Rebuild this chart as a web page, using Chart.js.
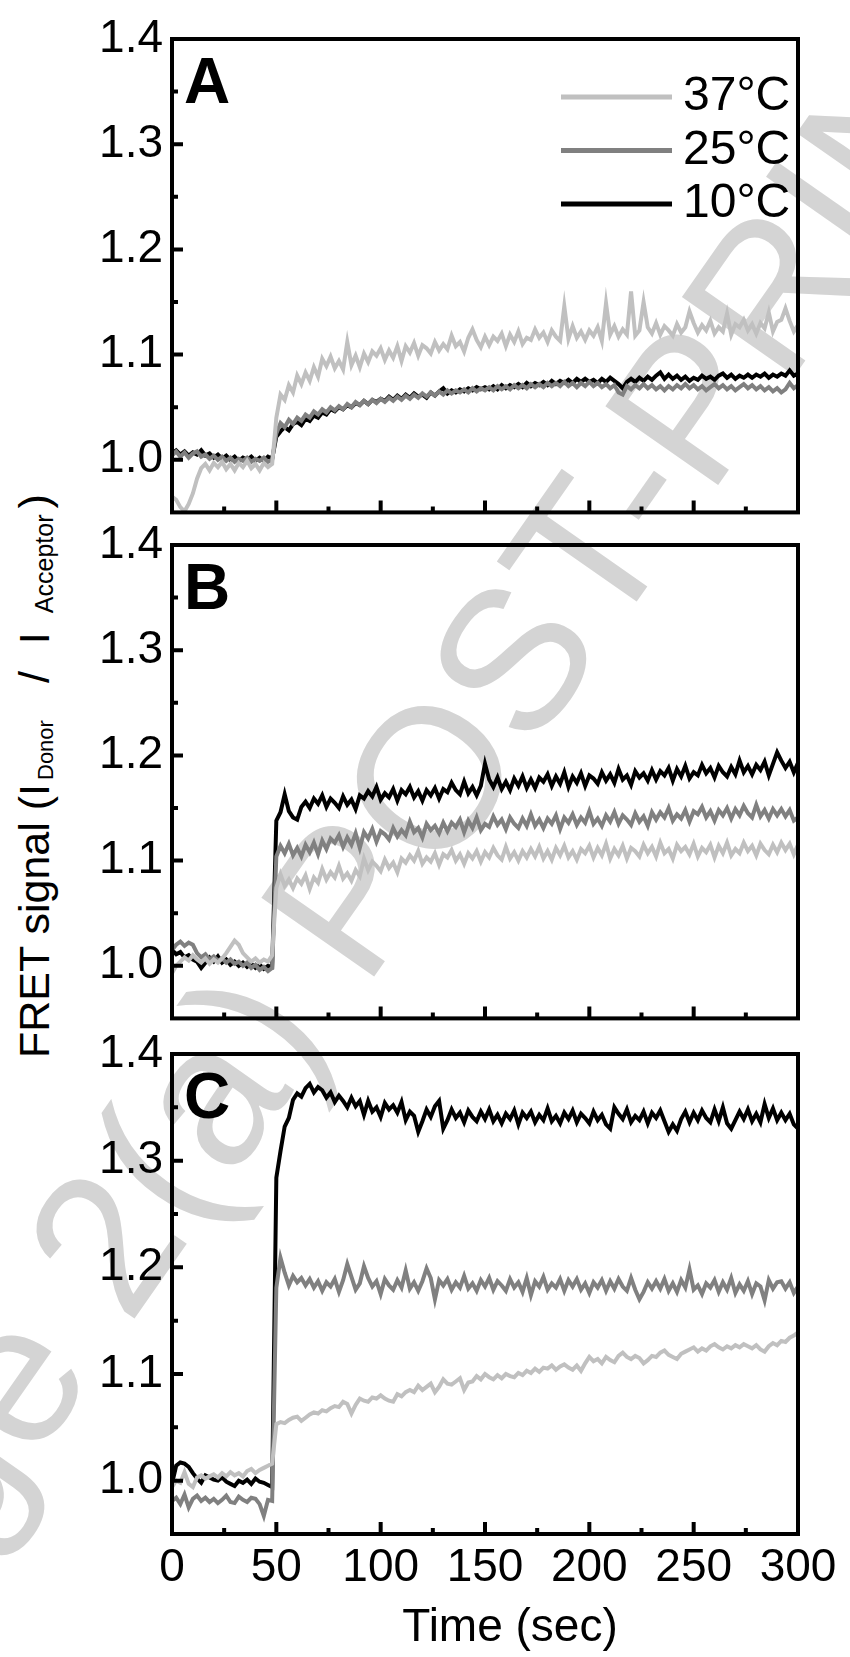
<!DOCTYPE html>
<html>
<head>
<meta charset="utf-8">
<title>FRET signal vs time</title>
<script src="https://cdn.jsdelivr.net/npm/chart.js@4.4.1/dist/chart.umd.min.js"></script>
<style>
  html, body { margin: 0; padding: 0; background: #fff; }
  #fig { position: relative; width: 850px; height: 1657px; overflow: hidden; background: #fff;
         font-family: "Liberation Sans", Arial, sans-serif; color: #000; }
  #fig canvas { position: absolute; left: 0; }
  /* watermark sits behind the plots */
  #mark { position: absolute; left: -171px; top: 1586px; font-size: 200px; line-height: 200px;
          color: #d4d4d4; white-space: nowrap; transform-origin: 0 169px; transform: rotate(-55deg); }
  #ytitle { position: absolute; left: 49px; top: 1022px; font-size: 43px; line-height: 43px;
            white-space: nowrap; transform-origin: 0 36px; transform: rotate(-90deg); }
  #ytitle .sub { font-size: 22px; line-height: 22px; vertical-align: -4px; }
  #ytitle .sub2 { font-size: 25px; line-height: 25px; vertical-align: -4px; }
</style>
</head>
<body>
<div id="fig">
  <div id="mark">Page 2(a) POST-PRINT</div>
  <div id="ytitle">FRET signal (I<span class="sub" style="margin-left:4px">Donor</span><span style="margin-left:37px">/</span><span style="margin-left:27px">I</span><span class="sub2" style="margin-left:19px">Acceptor</span><span style="margin-left:6px">)</span></div>
  <canvas id="cA" width="850" height="549" style="top:0px"></canvas>
  <canvas id="cB" width="850" height="550" style="top:505px"></canvas>
  <canvas id="cC" width="850" height="643" style="top:1014px"></canvas>
</div>
<script>
// sampling times (sec)
const times = [0,2,4,6,8,10,12,14,16,18,20,22,24,26,28,30,32,34,36,38,40,42,44,46,48,
  50,52,54,56,58,60,62,64,66,68,70,72,74,76,78,80,82,84,86,88,90,92,94,96,98,100,102,104,106,108,110,112,114,116,118,120,122,124,126,128,130,132,134,136,138,140,142,144,146,148,150,
  152,154,156,158,160,162,164,166,168,170,172,174,176,178,180,182,184,186,188,190,192,194,196,198,200,202,204,206,208,210,212,214,216,218,220,222,224,226,228,230,232,234,236,238,240,242,244,246,248,250,252,254,256,258,260,262,264,266,268,270,272,274,276,278,280,282,284,286,288,290,292,294,296,298,300];

const labels = ['37°C', '25°C', '10°C'];
const colors = ['#c0c0c0', '#808080', '#000000'];

const xTicks = [0, 50, 100, 150, 200, 250, 300];
const xMinor = [25, 75, 125, 175, 225, 275];
const yTicks = [1.0, 1.1, 1.2, 1.3, 1.4];
const yMinor = [1.05, 1.15, 1.25, 1.35];

// panel A
const a37 = [0.965,0.962,0.955,0.951,0.958,0.968,0.982,0.992,0.996,0.990,0.997,0.993,0.998,0.991,0.996,0.990,0.997,0.993,0.999,0.992,0.996,0.990,0.997,0.993,0.996,
  1.040,1.062,1.057,1.071,1.064,1.080,1.072,1.083,1.075,1.088,1.079,1.096,1.089,1.098,1.087,1.094,1.086,1.112,1.090,1.099,1.088,1.101,1.093,1.103,1.099,1.106,1.095,1.104,1.097,1.108,1.094,1.108,1.102,1.111,1.099,1.109,1.106,1.101,1.112,1.104,1.110,1.105,1.118,1.108,1.112,1.103,1.116,1.124,1.114,1.107,1.117,
  1.109,1.117,1.113,1.120,1.108,1.119,1.112,1.122,1.110,1.116,1.114,1.124,1.116,1.121,1.112,1.123,1.117,1.113,1.146,1.115,1.127,1.116,1.122,1.114,1.123,1.118,1.126,1.113,1.149,1.119,1.127,1.117,1.124,1.119,1.160,1.118,1.123,1.150,1.126,1.120,1.130,1.119,1.127,1.123,1.118,1.129,1.121,1.126,1.141,1.130,1.121,1.128,1.123,1.132,1.120,1.126,1.122,1.139,1.119,1.129,1.126,1.133,1.123,1.129,1.120,1.130,1.125,1.140,1.122,1.131,1.133,1.144,1.132,1.122,1.128];
const a25 = [1.004,1.008,1.003,1.007,1.002,1.006,1.008,1.003,1.005,1.001,1.004,1.000,1.003,0.999,1.002,0.998,1.001,0.999,1.002,0.998,1.001,0.999,1.002,0.998,1.000,
  1.025,1.035,1.031,1.038,1.034,1.040,1.037,1.043,1.040,1.046,1.043,1.048,1.045,1.050,1.047,1.051,1.048,1.053,1.050,1.055,1.052,1.056,1.053,1.057,1.054,1.058,1.055,1.059,1.056,1.060,1.057,1.061,1.058,1.062,1.059,1.063,1.060,1.064,1.061,1.065,1.062,1.066,1.063,1.066,1.064,1.067,1.064,1.068,1.065,1.068,1.066,
  1.069,1.066,1.070,1.067,1.070,1.067,1.071,1.068,1.071,1.068,1.072,1.069,1.072,1.069,1.073,1.070,1.073,1.070,1.074,1.070,1.073,1.069,1.073,1.070,1.074,1.070,1.073,1.069,1.072,1.068,1.071,1.064,1.062,1.070,1.067,1.071,1.068,1.072,1.068,1.071,1.067,1.070,1.066,1.070,1.067,1.071,1.068,1.072,1.068,1.071,1.067,1.070,1.066,1.069,1.072,1.068,1.071,1.067,1.070,1.066,1.069,1.072,1.068,1.071,1.067,1.070,1.066,1.069,1.065,1.068,1.064,1.067,1.073,1.068,1.071];
const a10 = [1.006,1.009,1.005,1.008,1.004,1.007,1.005,1.009,1.004,1.006,1.002,1.005,1.001,1.004,1.000,1.003,0.999,1.002,1.000,1.003,0.999,1.002,0.999,1.003,1.001,
  1.022,1.027,1.031,1.028,1.034,1.036,1.033,1.039,1.037,1.042,1.040,1.045,1.043,1.048,1.046,1.050,1.048,1.052,1.050,1.054,1.052,1.056,1.053,1.057,1.055,1.058,1.056,1.060,1.057,1.061,1.058,1.062,1.059,1.063,1.060,1.062,1.059,1.064,1.061,1.065,1.068,1.063,1.066,1.064,1.067,1.065,1.068,1.066,1.069,1.067,1.069,
  1.067,1.070,1.067,1.071,1.068,1.071,1.069,1.072,1.069,1.073,1.070,1.073,1.071,1.074,1.071,1.075,1.072,1.075,1.073,1.076,1.073,1.077,1.074,1.077,1.074,1.076,1.073,1.077,1.074,1.078,1.075,1.072,1.068,1.074,1.077,1.074,1.078,1.075,1.079,1.076,1.080,1.083,1.077,1.081,1.077,1.080,1.076,1.079,1.075,1.078,1.076,1.080,1.077,1.079,1.076,1.080,1.082,1.078,1.081,1.077,1.080,1.078,1.081,1.078,1.081,1.079,1.082,1.078,1.081,1.079,1.082,1.080,1.085,1.080,1.082];

// panel B
const b37 = [0.993,1.000,1.004,1.008,1.005,1.010,1.006,1.003,1.007,1.002,1.006,1.003,1.007,1.012,1.018,1.024,1.020,1.012,1.008,1.004,1.007,1.003,1.006,1.004,1.010,
  1.074,1.087,1.076,1.082,1.074,1.083,1.078,1.086,1.073,1.084,1.079,1.092,1.082,1.089,1.084,1.095,1.083,1.088,1.081,1.091,1.085,1.102,1.091,1.099,1.095,1.090,1.101,1.093,1.098,1.089,1.102,1.098,1.105,1.100,1.109,1.097,1.103,1.099,1.107,1.096,1.106,1.103,1.110,1.100,1.106,1.097,1.107,1.102,1.109,1.099,1.108,
  1.103,1.112,1.105,1.101,1.113,1.102,1.108,1.100,1.109,1.103,1.111,1.104,1.113,1.102,1.109,1.101,1.112,1.105,1.114,1.103,1.109,1.101,1.111,1.107,1.114,1.103,1.112,1.105,1.116,1.102,1.111,1.105,1.114,1.102,1.112,1.109,1.104,1.115,1.107,1.113,1.104,1.117,1.107,1.111,1.102,1.115,1.109,1.113,1.106,1.116,1.104,1.112,1.108,1.115,1.103,1.114,1.107,1.117,1.105,1.111,1.107,1.117,1.109,1.114,1.105,1.116,1.110,1.106,1.115,1.108,1.117,1.110,1.116,1.106,1.115];
const b25 = [1.015,1.020,1.023,1.019,1.022,1.020,1.012,1.008,1.011,1.006,1.009,1.005,1.007,1.003,1.006,1.002,1.004,1.000,1.003,0.998,1.001,0.996,0.999,0.995,0.998,
  1.104,1.114,1.107,1.116,1.105,1.112,1.104,1.115,1.108,1.117,1.106,1.119,1.111,1.121,1.117,1.124,1.113,1.122,1.115,1.126,1.112,1.127,1.121,1.130,1.118,1.128,1.125,1.120,1.131,1.123,1.129,1.124,1.137,1.127,1.131,1.122,1.135,1.129,1.133,1.126,1.136,1.128,1.136,1.132,1.139,1.127,1.138,1.131,1.141,1.129,1.135,
  1.132,1.142,1.134,1.139,1.130,1.141,1.135,1.131,1.140,1.133,1.144,1.133,1.139,1.131,1.140,1.135,1.143,1.130,1.141,1.136,1.144,1.134,1.141,1.136,1.147,1.135,1.140,1.133,1.143,1.137,1.146,1.135,1.143,1.139,1.134,1.145,1.137,1.142,1.133,1.146,1.139,1.146,1.141,1.150,1.138,1.144,1.140,1.148,1.137,1.147,1.144,1.151,1.141,1.147,1.138,1.148,1.143,1.150,1.140,1.149,1.143,1.152,1.145,1.141,1.153,1.142,1.148,1.140,1.149,1.143,1.149,1.142,1.148,1.138,1.141];
const b10 = [1.015,1.011,1.013,1.008,1.010,1.006,1.004,0.998,1.003,1.008,1.004,1.009,1.003,1.006,1.001,1.004,1.000,1.003,0.999,1.002,0.998,1.001,0.997,1.000,0.999,
  1.138,1.146,1.163,1.147,1.141,1.139,1.151,1.156,1.150,1.159,1.154,1.162,1.151,1.159,1.155,1.150,1.161,1.153,1.158,1.149,1.162,1.159,1.166,1.161,1.170,1.158,1.164,1.160,1.168,1.157,1.167,1.163,1.170,1.160,1.166,1.157,1.167,1.162,1.169,1.159,1.168,1.165,1.174,1.167,1.163,1.175,1.164,1.170,1.162,1.171,1.192,
  1.177,1.170,1.179,1.168,1.175,1.167,1.178,1.171,1.180,1.169,1.177,1.169,1.179,1.175,1.182,1.171,1.180,1.173,1.184,1.170,1.180,1.174,1.183,1.171,1.181,1.178,1.173,1.184,1.176,1.182,1.174,1.187,1.177,1.181,1.172,1.185,1.179,1.183,1.176,1.186,1.177,1.185,1.181,1.188,1.176,1.187,1.180,1.190,1.178,1.184,1.181,1.191,1.183,1.188,1.179,1.190,1.184,1.180,1.189,1.182,1.195,1.184,1.190,1.182,1.191,1.186,1.194,1.181,1.192,1.203,1.195,1.188,1.194,1.184,1.193];

// panel C
const c37 = [0.994,1.000,0.998,1.008,0.997,0.994,1.003,1.005,1.002,1.004,1.006,1.003,1.007,1.004,1.008,1.005,1.007,1.004,1.009,1.011,1.007,1.010,1.012,1.014,1.016,
  1.053,1.055,1.054,1.057,1.059,1.060,1.056,1.059,1.062,1.064,1.063,1.066,1.065,1.068,1.070,1.069,1.074,1.072,1.063,1.071,1.077,1.075,1.074,1.078,1.077,1.080,1.077,1.075,1.074,1.081,1.079,1.083,1.085,1.083,1.089,1.085,1.088,1.091,1.083,1.088,1.095,1.091,1.090,1.093,1.096,1.085,1.092,1.093,1.098,1.095,1.100,
  1.097,1.095,1.099,1.096,1.100,1.098,1.097,1.101,1.099,1.103,1.101,1.105,1.102,1.106,1.105,1.108,1.104,1.107,1.109,1.106,1.104,1.108,1.103,1.110,1.116,1.112,1.114,1.110,1.116,1.113,1.111,1.117,1.120,1.116,1.114,1.117,1.115,1.110,1.113,1.117,1.116,1.120,1.122,1.118,1.116,1.114,1.119,1.121,1.123,1.125,1.121,1.124,1.122,1.126,1.128,1.125,1.123,1.126,1.124,1.127,1.125,1.128,1.126,1.124,1.127,1.123,1.121,1.126,1.129,1.127,1.131,1.130,1.134,1.136,1.139];
const c25 = [0.981,0.984,0.978,0.987,0.975,0.983,0.986,0.981,0.984,0.980,0.983,0.979,0.982,0.986,0.980,0.979,0.985,0.982,0.980,0.984,0.983,0.978,0.967,0.982,0.981,
  1.181,1.209,1.195,1.183,1.192,1.186,1.190,1.183,1.189,1.181,1.187,1.178,1.186,1.182,1.189,1.177,1.188,1.203,1.191,1.179,1.185,1.201,1.190,1.182,1.187,1.175,1.189,1.183,1.179,1.188,1.181,1.197,1.180,1.186,1.178,1.187,1.199,1.190,1.170,1.188,1.183,1.189,1.179,1.186,1.181,1.192,1.180,1.185,1.178,1.188,1.182,
  1.190,1.179,1.187,1.183,1.178,1.189,1.181,1.186,1.177,1.190,1.174,1.187,1.182,1.191,1.179,1.185,1.181,1.189,1.178,1.188,1.182,1.189,1.179,1.185,1.176,1.186,1.181,1.188,1.178,1.187,1.180,1.189,1.182,1.178,1.190,1.179,1.170,1.177,1.186,1.180,1.187,1.180,1.189,1.178,1.185,1.177,1.188,1.181,1.198,1.179,1.183,1.175,1.185,1.181,1.188,1.177,1.186,1.179,1.190,1.176,1.184,1.178,1.187,1.175,1.185,1.182,1.169,1.188,1.180,1.186,1.187,1.180,1.186,1.176,1.182];
const c10 = [0.997,1.014,1.017,1.016,1.013,1.007,1.002,0.998,1.005,1.003,1.001,1.000,1.003,0.999,0.997,0.995,1.000,0.998,1.001,0.997,1.002,0.999,0.998,0.996,0.994,
  1.284,1.309,1.332,1.340,1.357,1.363,1.360,1.368,1.372,1.364,1.369,1.366,1.359,1.364,1.355,1.361,1.356,1.350,1.359,1.351,1.356,1.343,1.356,1.346,1.350,1.341,1.354,1.348,1.352,1.345,1.355,1.338,1.346,1.342,1.327,1.337,1.348,1.341,1.351,1.356,1.330,1.338,1.348,1.340,1.345,1.336,1.347,1.341,1.337,1.346,1.339,
  1.348,1.337,1.343,1.335,1.344,1.339,1.347,1.334,1.345,1.340,1.346,1.336,1.343,1.338,1.349,1.337,1.342,1.335,1.345,1.339,1.347,1.336,1.344,1.340,1.335,1.346,1.338,1.343,1.334,1.330,1.350,1.344,1.339,1.348,1.336,1.342,1.338,1.346,1.335,1.345,1.340,1.347,1.337,1.327,1.334,1.328,1.339,1.346,1.336,1.345,1.338,1.347,1.340,1.336,1.348,1.337,1.350,1.335,1.330,1.338,1.346,1.339,1.348,1.337,1.344,1.336,1.353,1.340,1.349,1.338,1.345,1.338,1.344,1.334,1.330];

Chart.defaults.font.family = '"Liberation Sans", Arial, sans-serif';
Chart.defaults.color = '#000';

// box, inward ticks, panel letter, legend and x title
const framePlugin = {
  id: 'frame',
  afterDraw(chart, args, opts) {
    const ctx = chart.ctx, a = chart.chartArea;
    const xs = chart.scales.x, ys = chart.scales.y;
    ctx.save();
    ctx.strokeStyle = '#000';
    ctx.lineWidth = 4;
    ctx.beginPath();
    xTicks.forEach(v => { const p = xs.getPixelForValue(v); ctx.moveTo(p, a.bottom); ctx.lineTo(p, a.bottom - 12); });
    xMinor.forEach(v => { const p = xs.getPixelForValue(v); ctx.moveTo(p, a.bottom); ctx.lineTo(p, a.bottom - 6); });
    yTicks.forEach(v => { const p = ys.getPixelForValue(v); ctx.moveTo(a.left, p); ctx.lineTo(a.left + 11, p); });
    yMinor.forEach(v => { const p = ys.getPixelForValue(v); ctx.moveTo(a.left, p); ctx.lineTo(a.left + 6, p); });
    ctx.stroke();
    ctx.strokeRect(a.left, a.top, a.right - a.left, a.bottom - a.top);

    ctx.fillStyle = '#000';
    ctx.font = 'bold 64px "Liberation Sans", Arial, sans-serif';
    ctx.textAlign = 'left';
    ctx.textBaseline = 'alphabetic';
    ctx.fillText(opts.letter, a.left + 12, a.top + 64);

    if (opts.legend) {
      ctx.font = '48px "Liberation Sans", Arial, sans-serif';
      ctx.textBaseline = 'middle';
      ctx.lineWidth = 5;
      chart.data.datasets.forEach((ds, i) => {
        const y = a.top + 58 + i * 53.5;
        ctx.strokeStyle = ds.borderColor;
        ctx.beginPath();
        ctx.moveTo(a.right - 237, y);
        ctx.lineTo(a.right - 126, y);
        ctx.stroke();
        ctx.fillText(ds.label, a.right - 115, y);
      });
    }
    if (opts.xTitle) {
      ctx.font = '46px "Liberation Sans", Arial, sans-serif';
      ctx.textAlign = 'center';
      ctx.textBaseline = 'middle';
      ctx.fillText(opts.xTitle, 510, a.bottom + 94);
    }
    ctx.restore();
  }
};

function makePanel(id, series, letter, padTop, xHeight, showX, legend) {
  return new Chart(document.getElementById(id), {
    type: 'line',
    data: {
      datasets: series.map((s, i) => ({
        label: labels[i],
        data: times.map((t, k) => ({ x: t, y: s[k] })),
        borderColor: colors[i],
        borderWidth: 4,
        pointRadius: 0,
        tension: 0,
        fill: false
      }))
    },
    options: {
      responsive: false,
      animation: false,
      events: [],
      layout: { padding: { top: padTop, right: 52, bottom: 0, left: 0 } },
      plugins: {
        legend: { display: false },
        tooltip: { enabled: false },
        frame: { letter: letter, legend: legend, xTitle: showX ? 'Time (sec)' : '' }
      },
      scales: {
        x: {
          type: 'linear', min: 0, max: 300,
          afterBuildTicks: s => { s.ticks = xTicks.map(v => ({ value: v })); },
          afterFit: s => { s.height = xHeight; },
          grid: { display: false, drawTicks: false },
          border: { display: false },
          ticks: { display: showX, padding: 7, autoSkip: false, maxRotation: 0, font: { size: 46 }, color: '#000',
                   callback: v => String(v) }
        },
        y: {
          min: 0.95, max: 1.4,
          afterBuildTicks: s => { s.ticks = yTicks.map(v => ({ value: v })); },
          afterFit: s => { s.width = 172; },
          grid: { display: false, drawTicks: false },
          border: { display: false },
          ticks: { padding: 9, font: { size: 46 }, color: '#000', callback: v => v.toFixed(1) }
        }
      }
    },
    plugins: [framePlugin]
  });
}

makePanel('cA', [a37, a25, a10], 'A', 39, 30, false, true);
makePanel('cB', [b37, b25, b10], 'B', 40, 30, false, false);
makePanel('cC', [c37, c25, c10], 'C', 40, 123, true, false);
</script>
</body>
</html>
